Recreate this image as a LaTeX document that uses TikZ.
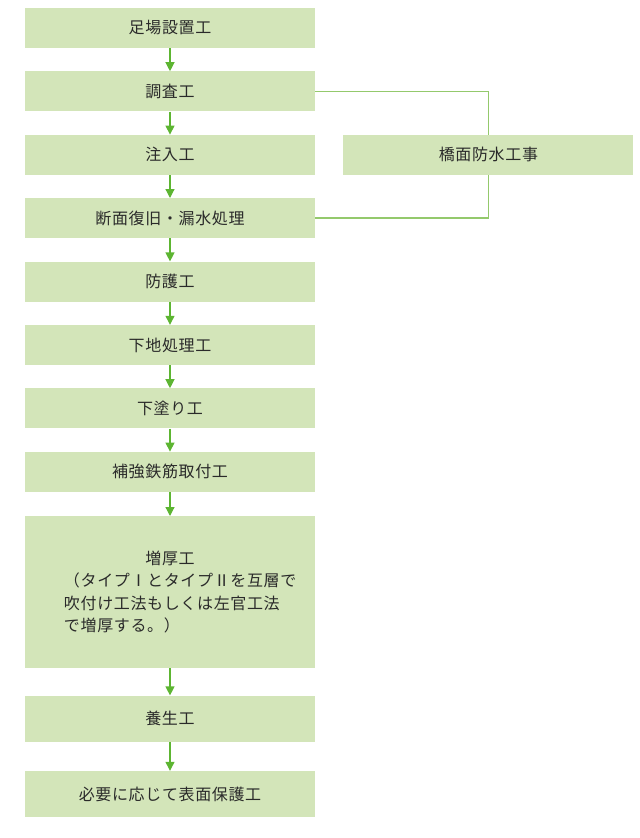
\documentclass[tikz,border=0pt]{standalone}
\usepackage{fontspec}
\setmainfont{Noto Sans CJK JP}[LetterSpace=4]
\usetikzlibrary{positioning,arrows.meta}
\definecolor{boxgreen}{HTML}{D3E5B9}
\definecolor{arrowgreen}{HTML}{5DB532}
\definecolor{linegreen}{HTML}{94C96C}
\definecolor{textgray}{HTML}{2A2A2A}

\begin{document}
\begin{tikzpicture}[x=1bp, y=-1bp, >={Triangle[length=9bp,width=9bp]}, node distance=23bp,
    work/.style={rectangle, fill=boxgreen, minimum width=290bp, minimum height=40bp, inner sep=0pt, text=textgray, font=\fontsize{16bp}{22.5bp}\selectfont},
    flow/.style={->, draw=arrowgreen, fill=arrowgreen, line width=1.2bp},
    link/.style={draw=linegreen, line width=1.5bp}]
    \useasboundingbox (0,0) rectangle (640,838);

    % Nodes {ashiba, chosa, chunyu, etc}
    \node [work]                          (ashiba)  at (170,28)              {足場設置工};
    \node [work]                          (chosa)   [below=of ashiba]        {調査工};
    \node [work]                          (chunyu)  [below=of chosa]         {注入工};
    \node [work]                          (danmen)  [below=of chunyu]        {断面復旧・漏水処理};
    \node [work]                          (bogo)    [below=of danmen]        {防護工};
    \node [work]                          (shitaji) [below=of bogo]          {下地処理工};
    \node [work]                          (shitanuri) [below=of shitaji]     {下塗り工};
    \node [work]                          (hokyo)   [below=of shitanuri]     {補強鉄筋取付工};
    \node [work, minimum height=152bp, text width=212bp, align=left]
                                          (zoko)    [below=24bp of hokyo]
        {\hfill 増厚工\hfill\null\\（タイプⅠとタイプⅡを互層で\\吹付け工法もしくは左官工法\\で増厚する。）};
    \node [work, minimum height=46bp]     (yojo)    [below=27bp of zoko]     {養生工};
    \node [work, minimum height=46bp]     (hyomen)  [below=29bp of yojo]     {必要に応じて表面保護工};
    \node [work]                          (kyomen)  [right=28bp of chunyu]   {橋面防水工事};

    % Paths
    \path [flow] (ashiba)    edge (chosa);
    \path [flow] (chosa)     edge (chunyu);
    \path [flow] (chunyu)    edge (danmen);
    \path [flow] (danmen)    edge (bogo);
    \path [flow] (bogo)      edge (shitaji);
    \path [flow] (shitaji)   edge (shitanuri);
    \path [flow] (shitanuri) edge (hokyo);
    \path [flow] (hokyo)     edge (zoko);
    \path [flow] (zoko)      edge (yojo);
    \path [flow] (yojo)      edge (hyomen);
    \draw [link] (chosa.east)   -| (kyomen.north);
    \draw [link] (kyomen.south) |- (danmen.east);

    \end{tikzpicture}
\end{document}
